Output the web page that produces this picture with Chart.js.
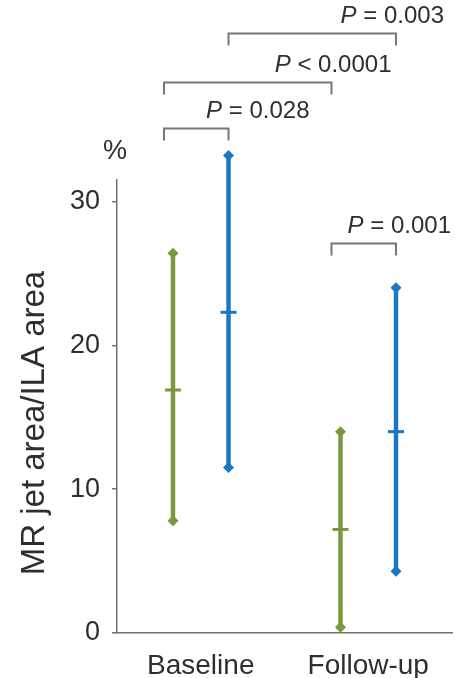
<!DOCTYPE html>
<html>
<head>
<meta charset="utf-8">
<script src="https://cdn.jsdelivr.net/npm/chart.js@4/dist/chart.umd.min.js"></script>
<style>
  html, body { margin: 0; padding: 0; background: #fff; }
  #wrap { width: 464px; height: 678px; position: relative; }
</style>
</head>
<body>
<div id="wrap"><canvas id="chart"></canvas></div>
<script>
// Range (min–max) and mean of MR jet area / ILA area, per time point.
const categories = ['Baseline', 'Follow-up'];
const seriesNames = ['Group 1', 'Group 2'];
const greenMin  = [7.8, 0.4];
const greenMean = [16.9, 7.2];
const greenMax  = [26.4, 14.0];
const blueMin   = [11.5, 4.3];
const blueMean  = [22.3, 14.0];
const blueMax   = [33.2, 24.0];
const yTicks    = [0, 10, 20, 30];
const yTitle    = 'MR jet area/ILA area';

// Comparison brackets: [categoryIndex, seriesIndex] ends, height in data units.
const pSigns  = ['=', '<', '=', '='];
const pValues = ['0.028', '0.0001', '0.003', '0.001'];
const pFrom   = [[0, 0], [0, 0], [0, 1], [1, 0]];
const pTo     = [[0, 1], [1, 0], [1, 1], [1, 1]];
const pLevels = [35.1, 38.3, 41.7, 27.1];

// Look only.
const seriesColors = ['#789a3c', '#1b77c5'];
const seriesBracketDx = [-9, 0];
const pTextDx = [81, 60, 48, 55];
const axisColor = '#707070';
const textColor = '#2e2e2e';
const FONT = "'Liberation Sans', Arial, sans-serif";

Chart.defaults.font.family = FONT;

const means = [greenMean, blueMean];

const drawDiamond = (ctx, x, y, r) => {
  ctx.beginPath();
  ctx.moveTo(x, y - r);
  ctx.lineTo(x + r, y);
  ctx.lineTo(x, y + r);
  ctx.lineTo(x - r, y);
  ctx.closePath();
  ctx.fill();
};

// Diamond caps at min/max and a short dash at the mean.
const whiskerMarks = {
  id: 'whiskerMarks',
  afterDatasetsDraw(chart) {
    const { ctx, scales: { y } } = chart;
    chart.data.datasets.forEach((ds, di) => {
      chart.getDatasetMeta(di).data.forEach((bar, i) => {
        const [lo, hi] = ds.data[i];
        ctx.save();
        ctx.fillStyle = ds.backgroundColor;
        ctx.strokeStyle = ds.backgroundColor;
        drawDiamond(ctx, bar.x, y.getPixelForValue(lo), 5.5);
        drawDiamond(ctx, bar.x, y.getPixelForValue(hi), 5.5);
        const my = y.getPixelForValue(means[di][i]);
        ctx.lineWidth = 3;
        ctx.beginPath();
        ctx.moveTo(bar.x - 8, my);
        ctx.lineTo(bar.x + 8, my);
        ctx.stroke();
        ctx.restore();
      });
    });
  }
};

// P-value brackets above the bars, the "%" unit label and the y title.
const annotations = {
  id: 'annotations',
  afterDraw(chart) {
    const { ctx, scales: { y }, chartArea } = chart;
    const barX = ([ci, si]) => chart.getDatasetMeta(si).data[ci].x + seriesBracketDx[si];
    ctx.save();
    pLevels.forEach((level, k) => {
      const x1 = barX(pFrom[k]);
      const x2 = barX(pTo[k]);
      const py = Math.round(y.getPixelForValue(level)) + 0.5;
      ctx.strokeStyle = '#777';
      ctx.lineWidth = 2;
      ctx.beginPath();
      ctx.moveTo(x1, py + 12);
      ctx.lineTo(x1, py);
      ctx.lineTo(x2, py);
      ctx.lineTo(x2, py + 12);
      ctx.stroke();

      const rest = ` ${pSigns[k]} ${pValues[k]}`;
      const right = x2 + pTextDx[k];
      const ty = py - 17;
      ctx.fillStyle = textColor;
      ctx.textBaseline = 'middle';
      ctx.textAlign = 'left';
      ctx.font = `24px ${FONT}`;
      const restW = ctx.measureText(rest).width;
      ctx.font = `italic 24px ${FONT}`;
      const pW = ctx.measureText('P').width;
      ctx.fillText('P', right - restW - pW, ty);
      ctx.font = `24px ${FONT}`;
      ctx.fillText(rest, right - restW, ty);
    });

    ctx.fillStyle = textColor;
    ctx.font = `27px ${FONT}`;
    ctx.textAlign = 'center';
    ctx.textBaseline = 'middle';
    ctx.fillText('%', chartArea.left - 2, y.getPixelForValue(33.5));

    ctx.translate(35, y.getPixelForValue(14.6));
    ctx.rotate(-Math.PI / 2);
    ctx.font = `33px ${FONT}`;
    ctx.fillText(yTitle, 0, 0);
    ctx.restore();
  }
};

new Chart(document.getElementById('chart'), {
  type: 'bar',
  data: {
    labels: categories,
    datasets: [
      { label: seriesNames[0], data: categories.map((c, i) => [greenMin[i], greenMax[i]]),
        backgroundColor: seriesColors[0], clip: false },
      { label: seriesNames[1], data: categories.map((c, i) => [blueMin[i], blueMax[i]]),
        backgroundColor: seriesColors[1], clip: false }
    ]
  },
  options: {
    responsive: true,
    maintainAspectRatio: false,
    animation: false,
    categoryPercentage: 0.663,
    barPercentage: 0.08,
    layout: { padding: { top: 180, right: 12, left: 0, bottom: 0 } },
    plugins: { legend: { display: false }, tooltip: { enabled: false } },
    scales: {
      x: {
        afterFit: s => { s.height = 45; },
        border: { color: axisColor, width: 1.5 },
        grid: { display: false },
        ticks: { color: textColor, font: { size: 28 }, padding: 8 }
      },
      y: {
        min: 0,
        max: 31.5,
        afterBuildTicks: s => { s.ticks = yTicks.map(v => ({ value: v })); },
        afterFit: s => { s.width = 117; },
        border: { color: axisColor, width: 1.5 },
        grid: { drawOnChartArea: false, drawTicks: true, tickLength: 5, color: axisColor, lineWidth: 1.5 },
        ticks: { color: textColor, font: { size: 27 }, padding: 12 }
      }
    }
  },
  plugins: [whiskerMarks, annotations]
});
</script>
</body>
</html>
